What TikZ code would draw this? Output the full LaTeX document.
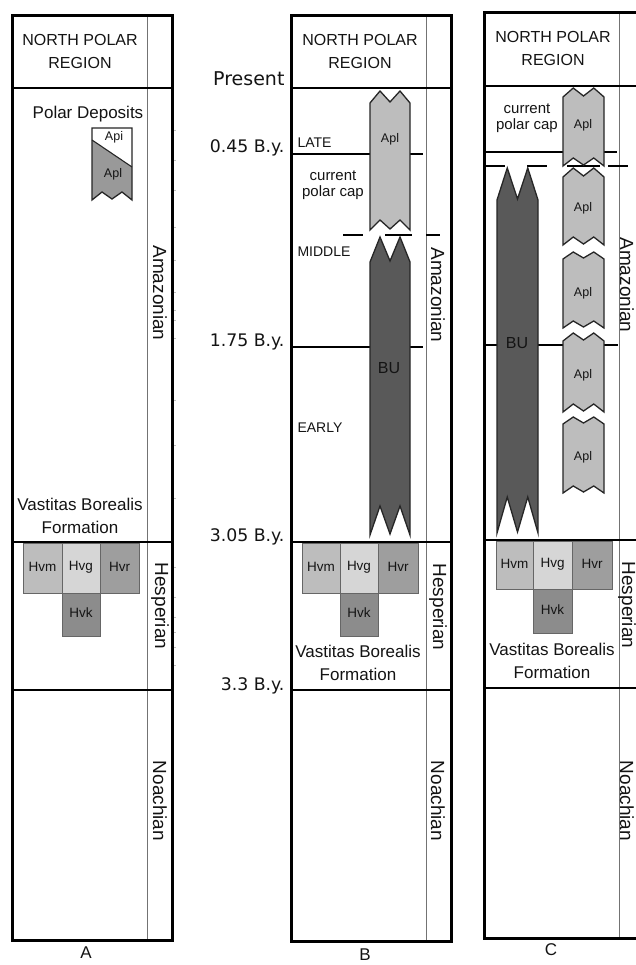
\documentclass[tikz,border=0pt]{standalone}
\usepackage{fontspec}
\setmainfont{Liberation Sans}
\newfontfamily\timefont{DejaVu Sans}
\definecolor{aplA}{gray}{0.6}
\definecolor{aplB}{gray}{0.74}
\definecolor{bucol}{gray}{0.35}
\definecolor{hvm}{gray}{0.74}
\definecolor{hvg}{gray}{0.84}
\definecolor{hvr}{gray}{0.62}
\definecolor{hvk}{gray}{0.55}
\definecolor{ink}{gray}{0.08}
\newcommand\zbar[7]{%
  \pgfmathsetmacro\zq{(#2-#1)/4}%
  \pgfmathsetmacro\zm{(#1+#2)/2}%
  \filldraw[fill=#7, draw=black!85, line width=1.3pt, line join=miter]
    (#1,#4) -- ({#1+\zq},#3) -- (\zm,{#4-1}) -- ({#2-\zq},#3) -- (#2,#4)
    -- (#2,#6) -- ({#2-\zq},#5) -- (\zm,{#6-1}) -- ({#1+\zq},#5) -- (#1,#6) -- cycle;}
\tikzset{
  outer/.style={draw=black, line width=3pt},
  hdr/.style={draw=black, line width=2pt},
  per/.style={draw=black, line width=2.4pt},
  inner/.style={draw=black!55, line width=0.9pt},
  tickm/.style={draw=black!25, line width=0.6pt},
  dsh/.style={draw=black, line width=1.4pt},
  hvbox/.style={draw=black!60, line width=0.8pt},
  head/.style={text=ink, align=center, font=\fontsize{16}{23}\selectfont},
  vbf/.style={text=ink, align=center, font=\fontsize{17}{23}\selectfont},
  capl/.style={text=ink, align=center, font=\fontsize{15}{16.5}\selectfont},
  perlab/.style={text=ink, rotate=-90, font=\fontsize{19}{19}\selectfont},
  timel/.style={text=ink, anchor=east, font=\timefont\fontsize{17.3}{18}\selectfont},
  subl/.style={text=ink, anchor=west, font=\fontsize{14}{14}\selectfont},
  smalll/.style={text=ink, font=\fontsize{12.5}{12.5}\selectfont},
  hvl/.style={text=ink, font=\fontsize{13.5}{13.5}\selectfont},
  bul/.style={text=ink, font=\fontsize{16}{16}\selectfont},
  colab/.style={text=ink, font=\fontsize{17}{17}\selectfont},
}
\begin{document}
\begin{tikzpicture}[x=1pt, y=-1pt]
\useasboundingbox[fill=white] (0,0) rectangle (636,965);

% ================= Column A =================
\draw[inner] (147,16) -- (147,940);
\draw[hdr] (12,88) -- (172,88);
\draw[per] (12,542) -- (172,542);
\draw[per] (12,690) -- (172,690);
\foreach \t in {130,160,190,227,260,292,310,320,338,400,445,498,567,597,617,632,647,665}
  \draw[tickm] (172,\t) -- (176,\t);
\draw[outer] (12,16) rectangle (172,940);

\node[head] (hA) at (80,51) {NORTH POLAR\\REGION};
\node[text=ink, font=\fontsize{17}{17}\selectfont] (pd) at (88,114) {Polar Deposits};
% Api / Apl box
\fill[white] (92,128) -- (132,128) -- (132,167) -- (92,140) -- cycle;
\fill[aplA] (92,140) -- (132,167) -- (132,200) -- (122,192) -- (112,199) -- (102,192) -- (92,200) -- cycle;
\draw[black!85, line width=1.3pt, line join=miter] (92,128) -- (132,128) -- (132,200) -- (122,192) -- (112,199) -- (102,192) -- (92,200) -- cycle;
\draw[black!85, line width=1.1pt] (92,140) -- (132,167);
\node[smalll] (api) at (114,137) {Api};
\node[smalll] (aplA1) at (113,174) {Apl};

\node[vbf] (vbA) at (80,516) {Vastitas Borealis\\Formation};
\filldraw[hvbox, fill=hvm] (23,543) rectangle (62,593);
\filldraw[hvbox, fill=hvg] (62,543) rectangle (100,593);
\filldraw[hvbox, fill=hvr] (100,543) rectangle (139,593);
\filldraw[hvbox, fill=hvk] (62,593) rectangle (100,636);
\node[hvl] (hvmA) at (42.5,567) {Hvm};
\node[hvl] (hvgA) at (81,567) {Hvg};
\node[hvl] (hvrA) at (119.5,567) {Hvr};
\node[hvl] (hvkA) at (81,613) {Hvk};

\node[perlab] (amA) at (160,293) {Amazonian};
\node[perlab] (heA) at (160,606) {Hesperian};
\node[perlab] (noA) at (160,801) {Noachian};
\node[colab] (labA) at (86,953) {A};

% ================= Column B =================
\draw[inner] (426,16) -- (426,941);
\draw[hdr] (291,88) -- (451,88);
\draw[per] (291,154) -- (423,154);
\draw[per] (291,347) -- (423,347);
\draw[per] (291,542) -- (451,542);
\draw[per] (291,690) -- (451,690);
\draw[dsh] (343,235) -- (363,235);
\draw[dsh] (385,235) -- (412,235);
\draw[dsh] (426,235) -- (440,235);
\draw[outer] (291,16) rectangle (451,941);

\node[head] (hB) at (360,51) {NORTH POLAR\\REGION};
\node[timel, font=\timefont\fontsize{19}{19}\selectfont] (tP) at (288,79) {Present};
\node[timel] (t045) at (288,148) {0.45 B.y.};
\node[timel] (t175) at (288,342) {1.75 B.y.};
\node[timel] (t305) at (288,537) {3.05 B.y.};
\node[timel] (t33) at (288,686) {3.3 B.y.};

\node[subl] (late) at (294,143) {LATE};
\node[subl] (mid) at (294,252) {MIDDLE};
\node[subl] (early) at (294,428) {EARLY};
\node[capl] (cpB) at (333,185) {current\\polar cap};

\zbar{370}{410}{91}{103}{220}{230}{aplB}
\node[smalll] (aplB1) at (390,139) {Apl};
\zbar{370}{410}{237}{262}{506}{535}{bucol}
\node[bul] (buB) at (389,368) {BU};

\filldraw[hvbox, fill=hvm] (302,543) rectangle (340,593);
\filldraw[hvbox, fill=hvg] (340,543) rectangle (378,593);
\filldraw[hvbox, fill=hvr] (378,543) rectangle (418,593);
\filldraw[hvbox, fill=hvk] (340,593) rectangle (378,636);
\node[hvl] (hvmB) at (321,567) {Hvm};
\node[hvl] (hvgB) at (359,567) {Hvg};
\node[hvl] (hvrB) at (398,567) {Hvr};
\node[hvl] (hvkB) at (359,613) {Hvk};
\node[vbf] (vbB) at (358,663) {Vastitas Borealis\\Formation};

\node[perlab] (amB) at (438,295) {Amazonian};
\node[perlab] (heB) at (438,607) {Hesperian};
\node[perlab] (noB) at (438,801) {Noachian};
\node[colab] (labB) at (365,955) {B};

% ================= Column C =================
\draw[inner] (619,13) -- (619,938);
\draw[hdr] (484,86) -- (644,86);
\draw[per] (484,152) -- (617,152);
\draw[per] (484,345) -- (618,345);
\draw[per] (484,540) -- (644,540);
\draw[per] (484,688) -- (644,688);
\draw[dsh] (485,166) -- (505,166);
\draw[dsh] (527,166) -- (547,166);
\draw[dsh] (567,166) -- (600,166);
\draw[dsh] (608,166) -- (628,166);
\draw[outer] (484,13) rectangle (644,938);

\node[head] (hC) at (553,48) {NORTH POLAR\\REGION};
\node[capl] (cpC) at (527,118) {current\\polar cap};

\zbar{497}{538}{168}{200}{497}{533}{bucol}
\node[bul] (buC) at (517,343) {BU};

\zbar{563}{604}{88}{97}{158}{166}{aplB}
\zbar{563}{604}{168}{177}{237}{245}{aplB}
\zbar{563}{604}{252}{259}{321}{328}{aplB}
\zbar{563}{604}{333}{341}{404}{412}{aplB}
\zbar{563}{604}{417}{424}{486}{493}{aplB}
\node[smalll] (aplC1) at (583,125) {Apl};
\node[smalll] (aplC2) at (583,208) {Apl};
\node[smalll] (aplC3) at (583,293) {Apl};
\node[smalll] (aplC4) at (583,375) {Apl};
\node[smalll] (aplC5) at (583,457) {Apl};

\filldraw[hvbox, fill=hvm] (496,541) rectangle (533,589);
\filldraw[hvbox, fill=hvg] (533,541) rectangle (572,589);
\filldraw[hvbox, fill=hvr] (572,541) rectangle (612,589);
\filldraw[hvbox, fill=hvk] (533,589) rectangle (572,633);
\node[hvl] (hvmC) at (514.5,564) {Hvm};
\node[hvl] (hvgC) at (552.5,564) {Hvg};
\node[hvl] (hvrC) at (592,564) {Hvr};
\node[hvl] (hvkC) at (552.5,610) {Hvk};
\node[vbf] (vbC) at (552,661) {Vastitas Borealis\\Formation};

\node[perlab, inner xsep=0pt, inner ysep=0pt] (amC) at (627,285) {Amazonian};
\node[perlab, inner xsep=0pt, inner ysep=0pt] (heC) at (627,605) {Hesperian};
\node[perlab, inner xsep=0pt, inner ysep=0pt] (noC) at (627,801) {Noachian};
\node[colab] (labC) at (551,950) {C};
\end{tikzpicture}
\end{document}
